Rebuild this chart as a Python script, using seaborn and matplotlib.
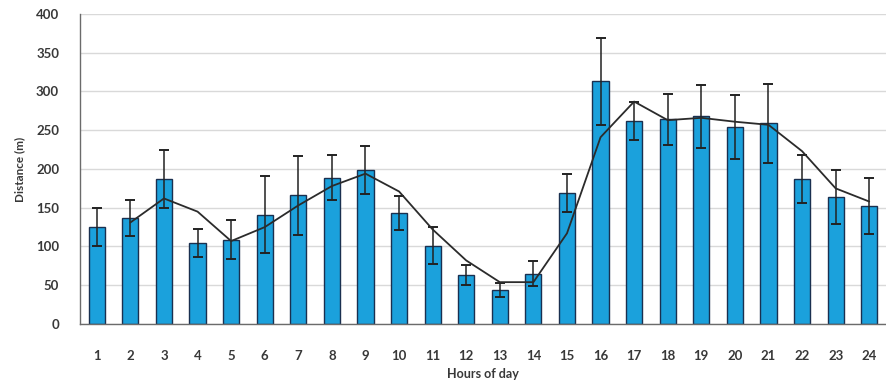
import matplotlib
matplotlib.use("Agg")
import matplotlib.pyplot as plt
import seaborn as sns
import pandas as pd

# Mean distance travelled per hour of day, with standard error
hours = [str(h) for h in range(1, 25)]
distance = [125, 137, 187, 104, 109, 141, 166, 189, 199, 143, 101, 63,
            44, 65, 169, 313, 262, 264, 268, 254, 259, 187, 164, 152]
error = [25, 23, 37, 18, 25, 50, 51, 29, 31, 22, 24, 13,
         9, 16, 25, 56, 25, 33, 41, 41, 51, 31, 35, 36]
# Two-period moving-average trend line (starts at hour 2)
trend_hours = hours[1:]
trend = [131, 162, 145, 107, 125, 153, 178, 194, 171, 122, 82, 54,
         54, 117, 241, 287, 263, 266, 261, 257, 223, 175, 158]

df = pd.DataFrame({"hour": hours, "distance": distance, "err": error})

sns.set_theme(style="white")
plt.rcParams["font.family"] = ["Lato", "DejaVu Sans"]

fig = plt.figure(figsize=(8.87, 3.81), dpi=100)
ax = fig.add_axes([0.0902, 0.1496, 0.9087, 0.8137])

sns.barplot(data=df, x="hour", y="distance", order=hours, color="#1BA1DC",
            saturation=1, width=0.48, edgecolor="#1a3050", linewidth=1.0,
            errorbar=None, ax=ax, zorder=2)

centers = {h: p.get_x() + p.get_width() / 2 for h, p in zip(hours, ax.patches)}
ax.errorbar([centers[h] for h in hours], distance, yerr=error, fmt="none",
            ecolor="#222222", elinewidth=1.1, capsize=3.5, capthick=1.4, zorder=3)
ax.plot([centers[h] for h in trend_hours], trend, color="#2b2b2b", lw=1.3, zorder=4)

ax.set_xlim(-0.5, len(hours) - 0.5)
ax.set_ylim(0, 400)
ax.set_yticks(range(0, 401, 50))
ax.yaxis.grid(True, color="#d9d9d9", lw=1.0)
ax.set_axisbelow(True)

for s in ("top", "right"):
    ax.spines[s].set_visible(False)
for s in ("left", "bottom"):
    ax.spines[s].set_color("#6b6b6b")
    ax.spines[s].set_linewidth(1.0)

# Category boundary ticks on the x axis, labels centred under bars
ax.set_xticks([i - 0.5 for i in range(len(hours) + 1)], minor=True)
ax.tick_params(axis="x", which="minor", length=4, width=1, color="#6b6b6b", direction="out")
ax.tick_params(axis="x", which="major", length=0, pad=19)
ax.tick_params(axis="y", length=4, width=1, color="#6b6b6b", direction="out", pad=11)
ax.set_xticks(range(len(hours)))
ax.set_xticklabels(hours)
for lbl in ax.get_xticklabels() + ax.get_yticklabels():
    lbl.set_fontsize(9.5)
    lbl.set_fontweight("bold")
    lbl.set_color("#383838")

ax.set_xlabel("Hours of day", fontsize=9, fontweight="bold", color="#383838", labelpad=4)
ax.set_ylabel("Distance (m)", fontsize=8.5, fontweight="bold", color="#383838", labelpad=8)

fig.savefig("out.png", dpi=100)
